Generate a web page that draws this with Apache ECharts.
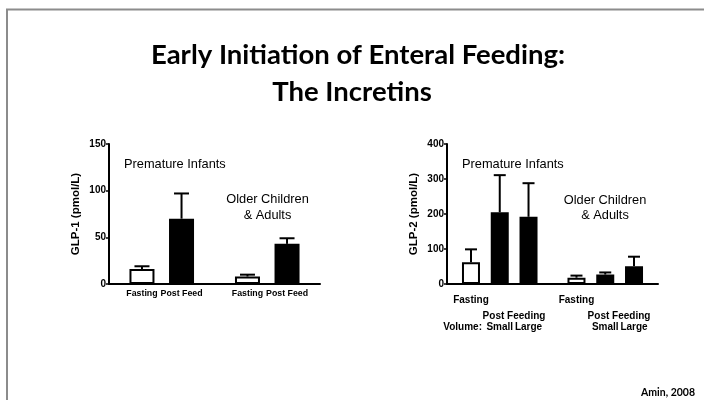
<!DOCTYPE html>
<html>
<head>
<meta charset="utf-8">
<style>
html, body { margin: 0; padding: 0; background: #fff; }
#chart { width: 704px; height: 400px; }
</style>
<script src="https://cdn.jsdelivr.net/npm/echarts@6/dist/echarts.min.js"></script>
</head>
<body>
<div id="chart"></div>
<script>
// GLP-1 panel
const glp1Labels = ['Fasting', 'Post Feed', 'Fasting', 'Post Feed']
const glp1Fed = [false, true, false, true]
const glp1Mean = [16, 70, 8, 43]
const glp1Upper = [19, 97, 10, 49]
const glp1Ticks = [0, 50, 100, 150]

// GLP-2 panel
const glp2Labels = ['Fasting', 'Small', 'Large', 'Fasting', 'Small', 'Large']
const glp2Fed = [false, true, true, false, true, true]
const glp2Mean = [62, 205, 192, 18, 27, 51]
const glp2Upper = [99, 311, 288, 24, 33, 78]
const glp2Ticks = [0, 100, 200, 300, 400]

// slot layout, prism style gaps between groups
const glp1Slots = { count: 16, at: [2, 5, 10, 13] }
const glp2Slots = { count: 22, at: [2, 5, 8, 13, 16, 19] }

const FONT = 'Liberation Sans, Arial, sans-serif'

function slotNames (slots) {
  return Array.from({ length: slots.count }, (_, i) => 's' + i)
}

function slotLabel (slots, labels, i) {
  const k = slots.at.indexOf(i)
  return k < 0 ? '' : labels[k]
}

function barData (slots, mean, fed) {
  return Array.from({ length: slots.count }, (_, i) => {
    const k = slots.at.indexOf(i)
    if (k < 0) return '-'
    return { value: mean[k], itemStyle: { color: fed[k] ? '#000' : '#fff' } }
  })
}

function errData (slots, mean, upper) {
  return slots.at.map((s, k) => [s, mean[k], upper[k]])
}

function errorBar (capW) {
  return function (params, api) {
    const base = api.coord([api.value(0), api.value(1)])
    const top = api.coord([api.value(0), api.value(2)])
    const h = capW / 2
    const st = { stroke: '#000', lineWidth: 2 }
    return {
      type: 'group',
      children: [
        { type: 'line', shape: { x1: base[0], y1: base[1], x2: top[0], y2: top[1] }, style: st },
        { type: 'line', shape: { x1: top[0] - h, y1: top[1], x2: top[0] + h, y2: top[1] }, style: st }
      ]
    }
  }
}

function yAxis (idx, name, ticks) {
  return {
    type: 'value',
    gridIndex: idx,
    min: ticks[0],
    max: ticks[ticks.length - 1],
    interval: ticks[1] - ticks[0],
    name: name,
    nameLocation: 'middle',
    nameGap: 27,
    nameTextStyle: { fontFamily: FONT, fontWeight: 'bold', fontSize: 11.5, color: '#000' },
    axisLine: { show: true, lineStyle: { color: '#000', width: 2 } },
    axisTick: { show: true, length: 3, lineStyle: { color: '#000', width: 1.5 } },
    axisLabel: { margin: 3, fontFamily: FONT, fontWeight: 'bold', fontSize: 10, color: '#000' },
    splitLine: { show: false }
  }
}

function labelStyle (size) {
  return { fontFamily: FONT, fontWeight: 'bold', fontSize: size, color: '#000', hideOverlap: false }
}

// main axis: line, ticks and first row of labels
function xAxis (idx, slots, labels, keep, axisLabel) {
  const show = (i) => slots.at.indexOf(i) >= 0
  return {
    type: 'category',
    gridIndex: idx,
    data: slotNames(slots),
    axisLine: { lineStyle: { color: '#000', width: 2 } },
    axisTick: { alignWithLabel: true, interval: show, length: 4, lineStyle: { color: '#000', width: 1.5 } },
    axisLabel: Object.assign({
      interval: (i) => keep(slotLabel(slots, labels, i)),
      formatter: (v, i) => slotLabel(slots, labels, i)
    }, axisLabel)
  }
}

// extra label row under an axis, no line or ticks
function xRow (idx, slots, labels, keep, offset, axisLabel) {
  return {
    type: 'category',
    gridIndex: idx,
    position: 'bottom',
    offset: offset,
    data: slotNames(slots),
    axisLine: { show: false },
    axisTick: { show: false },
    axisLabel: Object.assign({
      interval: (i) => keep(slotLabel(slots, labels, i)),
      formatter: (v, i) => slotLabel(slots, labels, i)
    }, axisLabel)
  }
}

const chart = echarts.init(document.getElementById('chart'))

function txt (x, y, text, size, align, weight, family) {
  return {
    type: 'text',
    x: x,
    y: y,
    style: {
      text: text,
      fill: '#000',
      font: (weight || 'normal') + ' ' + size + 'px ' + (family || FONT),
      textAlign: align || 'left',
      textVerticalAlign: 'middle'
    }
  }
}

const isFasting = (l) => l === 'Fasting'
const isVolume = (l) => l === 'Small' || l === 'Large'

const option = {
  animation: false,
  backgroundColor: '#fff',
  grid: [
    { left: 109, top: 144, width: 211, height: 140 },
    { left: 447, top: 144, width: 211, height: 140 }
  ],
  xAxis: [
    xAxis(0, glp1Slots, glp1Labels, (l) => l !== '', Object.assign({ margin: 5 }, labelStyle(8.8))),
    xAxis(1, glp2Slots, glp2Labels, isFasting, Object.assign({ margin: 11 }, labelStyle(10))),
    xRow(1, glp2Slots, glp2Labels, isVolume, 28, Object.assign({ margin: 10 }, labelStyle(10)))
  ],
  yAxis: [
    yAxis(0, 'GLP-1 (pmol/L)', glp1Ticks),
    yAxis(1, 'GLP-2 (pmol/L)', glp2Ticks)
  ],
  series: [
    {
      type: 'bar',
      xAxisIndex: 0,
      yAxisIndex: 0,
      barWidth: 25,
      itemStyle: { borderColor: '#000', borderWidth: 2 },
      data: barData(glp1Slots, glp1Mean, glp1Fed)
    },
    {
      type: 'custom',
      xAxisIndex: 0,
      yAxisIndex: 0,
      renderItem: errorBar(15),
      data: errData(glp1Slots, glp1Mean, glp1Upper)
    },
    {
      type: 'bar',
      xAxisIndex: 1,
      yAxisIndex: 1,
      barWidth: 18,
      itemStyle: { borderColor: '#000', borderWidth: 2 },
      data: barData(glp2Slots, glp2Mean, glp2Fed)
    },
    {
      type: 'custom',
      xAxisIndex: 1,
      yAxisIndex: 1,
      renderItem: errorBar(12),
      data: errData(glp2Slots, glp2Mean, glp2Upper)
    }
  ],
  graphic: [
    { type: 'rect', shape: { x: 7, y: 9.5, width: 800, height: 500 }, style: { fill: 'none', stroke: '#8c8c8c', lineWidth: 2 } },
    txt(358, 55, 'Early Initiation of Enteral Feeding:', 27.5, 'center', 'bold', 'Lato'),
    txt(352, 92, 'The Incretins', 27.5, 'center', 'bold', 'Lato'),
    txt(124, 164, 'Premature Infants', 12.8),
    txt(267.5, 199, 'Older Children', 12.8, 'center'),
    txt(267.5, 215, '& Adults', 12.8, 'center'),
    txt(462, 164, 'Premature Infants', 12.8),
    txt(605, 200, 'Older Children', 12.8, 'center'),
    txt(605, 215, '& Adults', 12.8, 'center'),
    txt(514, 316, 'Post Feeding', 10, 'center', 'bold'),
    txt(619, 316, 'Post Feeding', 10, 'center', 'bold'),
    txt(482, 327, 'Volume:', 10, 'right', 'bold'),
    txt(695, 393, 'Amin, 2008', 10.5, 'right', 'bold', 'Lato')
  ]
}

chart.setOption(option)
</script>
</body>
</html>
